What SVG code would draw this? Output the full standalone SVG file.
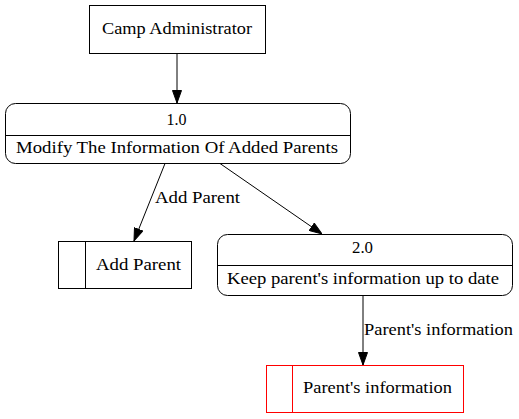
<svg xmlns="http://www.w3.org/2000/svg" width="519" height="419" viewBox="0 0 519 419">
<style>
.n{fill:none;stroke:#000;stroke-width:1}
.r{fill:none;stroke:#ff0000;stroke-width:1}
.e{fill:none;stroke:#000;stroke-width:1}
</style>
<defs>
<marker id="ah" markerWidth="13" markerHeight="10" refX="13" refY="5" orient="auto" markerUnits="userSpaceOnUse">
<polygon points="0.5,0.5 13,5 0.5,9.5" fill="#000" stroke="#000"/>
</marker>
</defs>
<rect x="0" y="0" width="519" height="419" fill="#fff"/>
<g font-family="Liberation Serif, Times New Roman, Tinos, DejaVu Serif, serif" font-size="17.5" fill="#000">
<g id="camp_admin">
<rect class="n" x="89.5" y="5.5" width="176" height="48"/>
<text text-anchor="middle" x="177" y="34" textLength="150" lengthAdjust="spacingAndGlyphs">Camp Administrator</text>
</g>
<g id="p1">
<rect class="n" x="5.5" y="103.5" width="345" height="60" rx="10" ry="10"/>
<line class="n" x1="5.5" y1="135.5" x2="350.5" y2="135.5"/>
<text text-anchor="middle" x="176.5" y="125" textLength="20" lengthAdjust="spacingAndGlyphs">1.0</text>
<text text-anchor="middle" x="177" y="153" textLength="322" lengthAdjust="spacingAndGlyphs">Modify The Information Of Added Parents</text>
</g>
<g id="store_add_parent">
<rect class="n" x="58.5" y="241.5" width="133" height="47"/>
<line class="n" x1="85.5" y1="241.5" x2="85.5" y2="288.5"/>
<text text-anchor="middle" x="138.5" y="270" textLength="85" lengthAdjust="spacingAndGlyphs">Add Parent</text>
</g>
<g id="p2">
<rect class="n" x="217.5" y="234.5" width="295" height="61" rx="10" ry="10"/>
<line class="n" x1="217.5" y1="265.5" x2="512.5" y2="265.5"/>
<text text-anchor="middle" x="362.5" y="253" textLength="21" lengthAdjust="spacingAndGlyphs">2.0</text>
<text text-anchor="middle" x="363" y="284" textLength="272" lengthAdjust="spacingAndGlyphs">Keep parent's information up to date</text>
</g>
<g id="store_parent_info">
<rect class="r" x="266.5" y="365.5" width="197" height="47"/>
<line class="r" x1="292.5" y1="365.5" x2="292.5" y2="412.5"/>
<text text-anchor="middle" x="377.5" y="393" textLength="149" lengthAdjust="spacingAndGlyphs">Parent's information</text>
</g>
<g id="connectors">
<line class="e" x1="177" y1="53.5" x2="177" y2="103" marker-end="url(#ah)"/>
<line class="e" x1="165" y1="163.5" x2="134" y2="241" marker-end="url(#ah)"/>
<text x="155" y="203" textLength="85" lengthAdjust="spacingAndGlyphs">Add Parent</text>
<line class="e" x1="220" y1="163.5" x2="322" y2="234" marker-end="url(#ah)"/>
<line class="e" x1="363" y1="295.5" x2="363" y2="365" marker-end="url(#ah)"/>
<text x="364" y="335" textLength="149" lengthAdjust="spacingAndGlyphs">Parent's information</text>
</g>
</g>
</svg>
